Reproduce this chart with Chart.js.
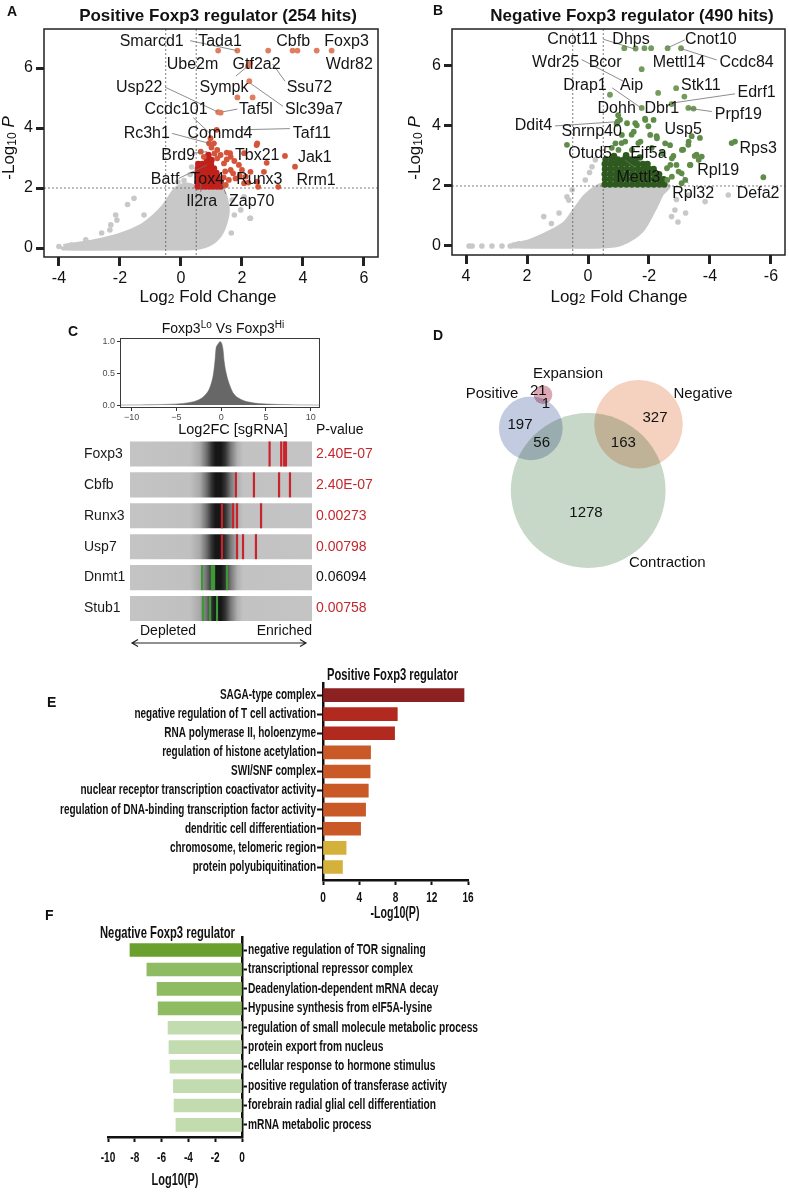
<!DOCTYPE html>
<html>
<head>
<meta charset="utf-8">
<title>Foxp3 regulator screen</title>
<script src="https://cdn.jsdelivr.net/npm/chart.js@4.4.1/dist/chart.umd.min.js"></script>
<style>
  html, body { margin: 0; padding: 0; background: #fff; }
  #page { position: relative; width: 789px; height: 1192px; overflow: hidden; background: #fff; }
  #page canvas { position: absolute; }
</style>
</head>
<body>
<div id="page">
  <canvas id="volcanoPos" width="395" height="310" style="left:0;top:0"></canvas>
  <canvas id="volcanoNeg" width="394" height="310" style="left:395px;top:0"></canvas>
  <canvas id="hist" width="400" height="123" style="left:0;top:315px"></canvas>
  <canvas id="barcode" width="400" height="228" style="left:0;top:425px"></canvas>
  <canvas id="venn" width="389" height="300" style="left:400px;top:315px"></canvas>
  <canvas id="goPos" width="789" height="270" style="left:0;top:655px"></canvas>
  <canvas id="goNeg" width="789" height="287" style="left:0;top:905px"></canvas>
</div>
<script>
// Foxp3 CRISPR screen figure: volcano plots, sgRNA barcodes, Venn, GO bars

// --- Panel A: positive regulators (log2FC, -log10 P) ---
const posTopHits = [[1.22,6.58],[1.85,6.58],[2.86,6.58],[3.66,6.58],[3.82,6.58],[4.45,6.58],[4.94,6.58],
  [2.2,6.06],[2.26,6.17],[2.24,5.56],[1.85,5.02],[2.35,5.02],[1.22,4.53],[1.3,4.51]];
const posHits = [[1.17,3.94],[0.97,3.66],[0.92,3.49],[1.08,3.49],[1.19,3.27],[2.5,3.49],[2.48,3.43],[1.5,3.18],
  [2.07,3.16],[1.61,3.16],[1.63,3.04],[3.41,3.07],[2.81,2.84],[1.9,2.77],[3.74,2.71],[2.28,2.54],[2.72,2.54],
  [1.63,2.6],[1.71,2.49],[1.79,2.32],[2.12,2.38],[1.93,2.4],[1.57,2.27],[2.07,2.16],[2.21,2.18],[2.5,2.21],
  [1.47,2.1],[3.19,2.04],[2.53,2.04],[0.65,3.21],[0.75,3.04],[1.19,2.99],[1.41,2.82],[1.0,3.35],[1.3,3.1],
  [1.5,2.95],[1.45,2.55],[1.4,2.35],[1.75,2.9],[2.0,2.6],[1.1,3.15]];
const posDenseHits = [
  [0.55,2.05],[0.68,2.05],[0.8,2.05],[0.93,2.05],[1.05,2.05],[1.18,2.05],[1.3,2.05],
  [0.55,2.2],[0.67,2.2],[0.8,2.2],[0.92,2.2],[1.05,2.2],[1.17,2.2],[1.3,2.2],
  [0.56,2.35],[0.68,2.35],[0.81,2.35],[0.94,2.35],[1.06,2.35],[1.2,2.35],
  [0.55,2.5],[0.67,2.5],[0.8,2.5],[0.93,2.5],[1.05,2.5],[1.16,2.5],
  [0.56,2.65],[0.69,2.65],[0.82,2.65],[0.95,2.65],[1.08,2.65],
  [0.57,2.8],[0.7,2.8],[0.84,2.8],[0.98,2.8],[0.85,2.95],[1.0,2.93],[0.9,3.1]];
const posGrey = [[-1.54,1.66],[-2.14,1.1],[-2.3,0.77],[-3.12,0.27],[-1.21,1.1],[2.28,0.99],[1.96,1.27],[1.68,1.6],
  [2.07,1.71],[-2.1,0.93],[2.26,0.99],[-4.0,0.05],[-3.6,0.1],[0.1,2.25],[0.3,2.45],[-0.1,2.2],[0.35,2.7],
  [-1.75,1.45],[-2.6,0.5],[1.75,1.1],[1.65,0.5],[0.13,1.93],[-2.33,0.6]];
const posCloud = [[-3.85,0.05],[-2.85,0.21],[-1.98,0.43],[-1.32,0.71],[-0.89,1.04],[-0.56,1.38],[-0.34,1.71],
  [-0.12,1.99],[0.21,2.1],[0.6,2.0],[1.19,1.99],[1.41,1.82],[1.47,1.6],[1.52,1.27],[1.47,0.93],[1.3,0.49],
  [0.97,0.16],[0.5,0.02],[-1.0,0],[-3.85,0],[-3.85,0.05]];

// --- Panel B: negative regulators ---
const negTopHits = [[-1.19,6.59],[-1.56,6.58],[-1.85,6.59],[-2.07,6.59],[-2.61,6.59],[-3.05,6.59],[-1.76,5.89],
  [-2.89,5.26],[-2.3,5.1],[-3.16,4.98],[-0.72,5.04],[-2.74,4.73],[-1.76,4.6],[-3.29,4.6],[-3.46,4.58]];
const negHits = [[-0.97,4.14],[-0.99,4.36],[-1.05,4.21],[-0.94,4.07],[-1.28,4.09],[-1.55,4.09],[-1.88,4.2],
  [-2.15,4.2],[-1.87,4.24],[-1.98,3.99],[-1.6,4.02],[-1.5,3.81],[-1.43,3.71],[-1.11,3.7],[-2.04,3.7],[-2.25,3.66],
  [-2.26,3.59],[-3.4,3.66],[-3.67,3.6],[-1.1,3.43],[-0.9,3.42],[-1.22,3.48],[-1.65,3.43],[-1.72,3.48],[-2.53,3.42],
  [-0.78,3.27],[-2.09,3.27],[-2.69,3.36],[-3.3,3.48],[-3.29,3.37],[-3.12,3.21],[-3.08,3.2],[-1.0,3.2],[-1.44,3.2],
  [-2.43,3.09],[-3.56,3.04],[-4.71,3.43],[-4.82,3.48],[-3.73,2.98],[-3.5,3.0],[-2.75,2.92],[-2.8,3.0],[-3.34,2.7],
  [-3.36,2.7],[-3.63,2.87],[-2.9,2.7],[-2.7,2.7],[-2.59,2.59],[-2.97,2.48],[-3.07,2.42],[-2.75,2.31],[-3.19,2.2],
  [-2.6,2.2],[-3.07,2.09],[-5.75,2.29],[0.69,3.37]];
const negDenseHits = [
  [-0.55,2.05],[-0.72,2.05],[-0.9,2.05],[-1.08,2.05],[-1.26,2.05],[-1.44,2.05],[-1.62,2.05],[-1.8,2.05],[-1.98,2.05],[-2.16,2.05],[-2.34,2.05],[-2.5,2.05],
  [-0.56,2.22],[-0.74,2.22],[-0.92,2.22],[-1.1,2.22],[-1.28,2.22],[-1.46,2.22],[-1.64,2.22],[-1.82,2.22],[-2.0,2.22],[-2.18,2.22],[-2.36,2.22],[-2.48,2.22],
  [-0.55,2.39],[-0.73,2.39],[-0.91,2.39],[-1.09,2.39],[-1.27,2.39],[-1.45,2.39],[-1.63,2.39],[-1.81,2.39],[-1.99,2.39],[-2.17,2.39],[-2.33,2.39],
  [-0.56,2.56],[-0.74,2.56],[-0.92,2.56],[-1.1,2.56],[-1.28,2.56],[-1.46,2.56],[-1.64,2.56],[-1.82,2.56],[-2.0,2.56],[-2.15,2.56],
  [-0.55,2.73],[-0.73,2.73],[-0.91,2.73],[-1.09,2.73],[-1.27,2.73],[-1.45,2.73],[-1.63,2.73],[-1.8,2.73],[-1.95,2.73],
  [-0.58,2.88],[-0.78,2.88],[-0.98,2.88],[-1.18,2.88],[-1.38,2.88],[-1.55,2.88],[-0.85,3.0],[-1.25,3.02],[-1.7,2.95]];
const negGrey = [[3.9,0],[3.8,0],[3.48,0],[3.15,0],[2.82,0],[2.55,0],[2.27,0.07],[1.45,0.98],[0.63,1.53],[0.52,1.87],
  [0.69,1.64],[-0.13,2.64],[-0.24,2.87],[0.09,2.2],[-0.05,2.45],[-4.6,1.7],[-3.84,1.48],[-2.85,1.2],[-2.74,0.98],
  [-2.9,1.55],[-3.3,1.7],[1.2,0.75],[0.95,1.1],[-3.2,1.1],[-2.95,0.8]];
const negCloud = [[2.5,0.03],[1.94,0.14],[1.18,0.48],[0.74,0.76],[0.42,1.2],[0.09,1.64],[-0.24,1.92],[-0.51,2.03],
  [-1.5,2.03],[-2.53,2.03],[-2.63,1.98],[-2.42,1.76],[-2.2,1.31],[-1.76,0.53],[-1.1,0.09],[-0.5,0],[2.5,0],[2.5,0.03]];

const volcanoYTicks = [0, 2, 4, 6];
const posXTicks = [-4, -2, 0, 2, 4, 6];
const negXTicks = [4, 2, 0, -2, -4, -6];

// gene name, label centre (log2FC, -log10P)
const posGeneLabels = [['Smarcd1',-0.96,6.88],['Tada1',1.28,6.88],['Cbfb',3.68,6.88],['Foxp3',5.43,6.88],
  ['Ube2m',0.38,6.1],['Gtf2a2',2.48,6.1],['Wdr82',5.52,6.1],['Usp22',-1.37,5.36],['Sympk',1.41,5.36],
  ['Ssu72',4.21,5.36],['Ccdc101',-0.16,4.62],['Taf5l',2.46,4.62],['Slc39a7',4.36,4.62],['Rc3h1',-1.12,3.82],
  ['Commd4',1.28,3.82],['Taf11',4.29,3.82],['Brd9',-0.09,3.07],['Tbx21',2.5,3.07],['Jak1',4.39,3.02],
  ['Batf',-0.52,2.29],['Tox4',0.86,2.29],['Runx3',2.57,2.29],['Rrm1',4.43,2.24],['Il2ra',0.68,1.54],['Zap70',2.32,1.54]];
const posLeaders = [[0.3,6.91,1.84,6.58],[1.8,5.73,2.2,6.07],[3.01,6.13,3.41,5.56],[2.26,5.5,3.35,4.72],
  [-0.52,5.36,1.2,4.54],[1.85,4.63,1.37,4.54],[0.4,4.35,0.95,3.82],[-0.29,3.82,0.92,3.49],[3.57,3.98,1.93,3.94],
  [0.37,3.16,0.86,3.21],[-0.07,2.32,0.86,2.77],[0.65,1.87,0.65,2.2],[1.3,2.3,1.47,1.8]];
const negGeneLabels = [['Cnot11',0.51,6.89],['Dhps',-1.41,6.89],['Cnot10',-4.03,6.89],['Wdr25',1.06,6.11],
  ['Bcor',-0.56,6.11],['Mettl14',-2.98,6.11],['Ccdc84',-5.2,6.11],['Drap1',0.1,5.33],['Aip',-1.43,5.33],
  ['Stk11',-3.7,5.33],['Edrf1',-5.53,5.11],['Dohh',-0.94,4.59],['Dbr1',-2.42,4.59],['Prpf19',-4.93,4.37],
  ['Ddit4',1.79,4.0],['Snrnp40',-0.12,3.81],['Usp5',-3.12,3.87],['Rps3',-5.58,3.26],['Otud5',-0.07,3.07],
  ['Eif5a',-1.98,3.07],['Mettl3',-1.65,2.29],['Rpl19',-4.27,2.51],['Rpl32',-3.45,1.73],['Defa2',-5.58,1.73]];
const negLeaders = [[-0.5,6.89,-1.54,6.56],[-3.18,6.87,-2.63,6.61],[-4.22,6.2,-3.07,6.57],[0.21,6.21,-1.16,5.49],
  [-0.79,5.27,-1.7,4.63],[-4.82,5.07,-2.74,4.76],[-4.06,4.48,-3.29,4.59],[1.08,4.0,-0.94,4.14],
  [-1.21,2.87,-1.54,2.62],[-3.29,2.09,-3.07,2.37],[-0.83,3.33,-0.97,3.48]];

// --- Panel C: sgRNA log2FC density and per-gene sgRNA ranks ---
const histX = [-11.3,-9,-7.5,-6.07,-4.21,-3.09,-2.35,-1.79,-1.23,-0.86,-0.67,-0.6,-0.41,-0.11,0.19,0.34,0.56,0.93,1.38,2.12,3.24,5.1,7.5,9,11.04];
const histY = [0,0.002,0.005,0.01,0.026,0.053,0.095,0.158,0.29,0.5,0.74,0.87,0.95,1.0,0.89,0.68,0.5,0.32,0.18,0.095,0.042,0.016,0.006,0.002,0];
const histXTicks = [-10, -5, 0, 5, 10];
const histYTicks = [0, 0.5, 1];

const screenGenes = ['Foxp3', 'Cbfb', 'Runx3', 'Usp7', 'Dnmt1', 'Stub1'];
const screenPValues = [2.4e-7, 2.4e-7, 0.00273, 0.00798, 0.06094, 0.00758];
const screenDirection = ['up', 'up', 'up', 'up', 'down', 'down'];
// sgRNA positions along the ranked library, percent from depleted (0) to enriched (100)
const sgRnaRanks = [[76.7,83.1,84.7,85.7],[58.2,68.1,81.9,87.9],[50.5,56.6,58.8,72.0],
  [50.5,58.8,62.1,69.2],[39.6,45.0,46.2,53.3],[40.1,44.0,47.8]];

// --- Panel D: Venn regions ---
const vennSetNames = ['Contraction', 'Positive', 'Negative', 'Expansion'];
const vennRegionSets = [['Expansion'],['Positive','Expansion'],['Positive'],['Positive','Contraction'],
  ['Negative'],['Negative','Contraction'],['Contraction']];
const vennRegionCounts = [21, 1, 197, 56, 327, 163, 1278];

// --- Panels E, F: GO enrichment ---
const goPosTerms = ['SAGA-type complex','negative regulation of T cell activation','RNA polymerase II, holoenzyme',
  'regulation of histone acetylation','SWI/SNF complex','nuclear receptor transcription coactivator activity',
  'regulation of DNA-binding transcription factor activity','dendritic cell differentiation',
  'chromosome, telomeric region','protein polyubiquitination'];
const goPosValues = [15.56, 8.2, 7.9, 5.25, 5.2, 5.0, 4.7, 4.15, 2.55, 2.15];
const goPosXTicks = [0, 4, 8, 12, 16];
const goNegTerms = ['negative regulation of TOR signaling','transcriptional repressor complex',
  'Deadenylation-dependent mRNA decay','Hypusine synthesis from eIF5A-lysine',
  'regulation of small molecule metabolic process','protein export from nucleus',
  'cellular response to hormone stimulus','positive regulation of transferase activity',
  'forebrain radial glial cell differentiation','mRNA metabolic process'];
const goNegValues = [-8.36, -7.1, -6.34, -6.26, -5.52, -5.45, -5.37, -5.12, -5.07, -4.93];
const goNegXTicks = [-10, -8, -6, -4, -2, 0];

// ---------------------------------------------------------------
const FONT = "'Liberation Sans', Arial, Helvetica, sans-serif";
const GREY = '#c8c8c8';
Chart.defaults.font.family = FONT;
Chart.defaults.color = '#111';
Chart.defaults.animation = false;
Chart.defaults.events = [];
Chart.defaults.layout.autoPadding = false; // keep chart areas exactly where the figure has them
Chart.defaults.plugins.legend.display = false;
Chart.defaults.plugins.tooltip.enabled = false;

function xy(list) { return list.map(([x, y]) => ({ x, y })); }

function txt(ctx, s, x, y, font, align, color) {
  ctx.save();
  ctx.font = font;
  ctx.fillStyle = color || '#111';
  ctx.textAlign = align || 'left';
  ctx.textBaseline = 'alphabetic';
  ctx.fillText(s, x, y);
  ctx.restore();
}

// draw text squeezed horizontally by sx (condensed look of the GO panels)
function squash(ctx, s, x, y, font, sx, align, base) {
  ctx.save();
  ctx.font = font;
  ctx.fillStyle = '#111';
  ctx.textAlign = align || 'left';
  ctx.textBaseline = base || 'alphabetic';
  ctx.translate(x, y);
  ctx.scale(sx, 1);
  ctx.fillText(s, 0, 0);
  ctx.restore();
}

function fitText(ctx, s, x, y, font, width, align) {
  ctx.save();
  ctx.font = font;
  const sx = width / ctx.measureText(s).width;
  ctx.restore();
  squash(ctx, s, x, y, font, sx, align || 'center');
}

// mixed-size text runs: [text, font, dy]
function rich(ctx, segs, x, y, align, rot) {
  ctx.save();
  ctx.translate(x, y);
  if (rot) ctx.rotate(rot);
  let total = 0;
  segs.forEach(s => { ctx.font = s[1]; total += ctx.measureText(s[0]).width; });
  let cx = align === 'center' ? -total / 2 : (align === 'right' ? -total : 0);
  ctx.fillStyle = '#111';
  ctx.textAlign = 'left';
  ctx.textBaseline = 'alphabetic';
  segs.forEach(s => {
    ctx.font = s[1];
    ctx.fillText(s[0], cx, s[2] || 0);
    cx += ctx.measureText(s[0]).width;
  });
  ctx.restore();
}

// --- volcano plots ---
function volcanoDecor(cfg) {
  return {
    id: 'volcanoDecor',
    afterDatasetDraw(chart, args) {
      if (!chart.data.datasets[args.index].dashAfter) return;
      const { ctx, chartArea: a, scales: { x, y } } = chart;
      ctx.save();
      ctx.strokeStyle = '#5a5a5a';
      ctx.lineWidth = 0.8;
      ctx.setLineDash([2, 2]);
      ctx.beginPath();
      [-0.5, 0.5].forEach(v => {
        const px = x.getPixelForValue(v);
        ctx.moveTo(px, a.top); ctx.lineTo(px, a.bottom);
      });
      const py = y.getPixelForValue(2);
      ctx.moveTo(a.left, py); ctx.lineTo(a.right, py);
      ctx.stroke();
      ctx.restore();
    },
    afterDraw(chart) {
      const { ctx, chartArea: a, scales: { x, y } } = chart;
      ctx.save();
      ctx.strokeStyle = '#222';
      ctx.lineWidth = 1.5;
      ctx.strokeRect(a.left, a.top, a.width, a.height);
      ctx.strokeStyle = '#707070';
      ctx.lineWidth = 0.8;
      ctx.beginPath();
      cfg.leaders.forEach(([x1, y1, x2, y2]) => {
        ctx.moveTo(x.getPixelForValue(x1), y.getPixelForValue(y1));
        ctx.lineTo(x.getPixelForValue(x2), y.getPixelForValue(y2));
      });
      ctx.stroke();
      ctx.font = '16px ' + FONT;
      ctx.fillStyle = '#141414';
      ctx.textAlign = 'center';
      ctx.textBaseline = 'middle';
      cfg.labels.forEach(([t, lx, ly]) => ctx.fillText(t, x.getPixelForValue(lx), y.getPixelForValue(ly)));
      ctx.restore();

      txt(ctx, cfg.letter, cfg.letterAt[0], cfg.letterAt[1], 'bold 14px ' + FONT);
      txt(ctx, cfg.title, cfg.titleAt[0], cfg.titleAt[1], 'bold 17px ' + FONT, 'center');
      rich(ctx, [['Log', '17px ' + FONT], ['2', '12px ' + FONT, 1], [' Fold Change', '17px ' + FONT]],
        cfg.xTitleAt[0], cfg.xTitleAt[1], 'center');
      rich(ctx, [['-Log', '17px ' + FONT], ['10', '12px ' + FONT, 2], [' ', '17px ' + FONT], ['P', 'italic 17px ' + FONT]],
        cfg.yTitleAt[0], cfg.yTitleAt[1], 'center', -Math.PI / 2);
    }
  };
}

function dots(list, colour, r, order) {
  return { data: xy(list), backgroundColor: colour, pointRadius: r, pointBorderWidth: 0, order };
}

function volcanoChart(id, cfg) {
  return new Chart(document.getElementById(id), {
    type: 'scatter',
    data: {
      datasets: [
        dots(cfg.top, cfg.topColour, 2.9, 0),
        dots(cfg.hits, cfg.hitColour, 2.9, 1),
        dots(cfg.dense, cfg.denseColour, 3.3, 2),
        Object.assign(dots(cfg.grey, GREY, 2.8, 4), { dashAfter: true }),
        { type: 'line', data: xy(cfg.cloud), fill: 'shape', backgroundColor: GREY, borderColor: GREY,
          borderWidth: 5, borderJoinStyle: 'round', pointRadius: 0, tension: 0.3, order: 5 }
      ]
    },
    options: {
      responsive: false,
      layout: { padding: { top: 29, right: cfg.padRight, left: 0, bottom: 0 } },
      scales: {
        x: {
          type: 'linear', min: cfg.xMin, max: cfg.xMax, reverse: !!cfg.reverse,
          afterBuildTicks: s => { s.ticks = cfg.xTicks.map(v => ({ value: v })); },
          afterFit: s => { s.height = cfg.xHeight; },
          border: { display: false },
          grid: { drawOnChartArea: false, drawTicks: true, tickLength: 9, tickWidth: 3, tickColor: '#222' },
          ticks: { font: { size: 16 }, color: '#111', padding: 3, maxRotation: 0 }
        },
        y: {
          type: 'linear', min: -0.3, max: cfg.yMax,
          afterBuildTicks: s => { s.ticks = volcanoYTicks.map(v => ({ value: v })); },
          afterFit: s => { s.width = cfg.yWidth; },
          border: { display: false },
          grid: { drawOnChartArea: false, drawTicks: true, tickLength: 8, tickWidth: 3, tickColor: '#222' },
          ticks: { font: { size: 16 }, color: '#111', padding: 3 }
        }
      }
    },
    plugins: [volcanoDecor(cfg)]
  });
}

volcanoChart('volcanoPos', {
  top: posTopHits, hits: posHits, dense: posDenseHits, grey: posGrey, cloud: posCloud,
  topColour: '#df7d5e', hitColour: '#d5553b', denseColour: '#c1201b',
  xMin: -4.49, xMax: 6.46, yMax: 7.3, xTicks: posXTicks, padRight: 17, yWidth: 44, xHeight: 53,
  labels: posGeneLabels, leaders: posLeaders,
  letter: 'A', letterAt: [7, 16], title: 'Positive Foxp3 regulator (254 hits)', titleAt: [218, 21],
  xTitleAt: [208, 302], yTitleAt: [14, 148]
});

volcanoChart('volcanoNeg', {
  top: negTopHits, hits: negHits, dense: negDenseHits, grey: negGrey, cloud: negCloud,
  topColour: '#729b5c', hitColour: '#5f8c48', denseColour: '#2e5a1f', reverse: true,
  xMin: -6.46, xMax: 4.46, yMax: 7.23, xTicks: negXTicks, padRight: 4, yWidth: 57, xHeight: 55,
  labels: negGeneLabels, leaders: negLeaders,
  letter: 'B', letterAt: [38, 15], title: 'Negative Foxp3 regulator (490 hits)', titleAt: [237, 21],
  xTitleAt: [224, 302], yTitleAt: [25, 148]
});

// --- panel C: density ---
new Chart(document.getElementById('hist'), {
  type: 'scatter',
  data: {
    datasets: [{
      type: 'line', data: histX.map((x, i) => ({ x, y: histY[i] })), fill: 'origin',
      backgroundColor: '#676767', borderColor: '#676767', borderWidth: 0.5, pointRadius: 0,
      cubicInterpolationMode: 'monotone'
    }]
  },
  options: {
    responsive: false,
    layout: { padding: { top: 23, right: 80, left: 0, bottom: 0 } },
    scales: {
      x: {
        type: 'linear', min: -11.31, max: 11.04,
        afterBuildTicks: s => { s.ticks = histXTicks.map(v => ({ value: v })); },
        afterFit: s => { s.height = 30; },
        border: { display: false },
        grid: { drawOnChartArea: false, tickLength: 3, tickWidth: 1, tickColor: '#333' },
        ticks: { font: { size: 9 }, color: '#4d4d4d', padding: 1, maxRotation: 0,
          callback: v => (v < 0 ? '\u2212' + Math.abs(v) : String(v)) }
      },
      y: {
        type: 'linear', min: -0.047, max: 1.058,
        afterBuildTicks: s => { s.ticks = histYTicks.map(v => ({ value: v })); },
        afterFit: s => { s.width = 120; },
        border: { display: false },
        grid: { drawOnChartArea: false, tickLength: 3, tickWidth: 1, tickColor: '#333' },
        ticks: { font: { size: 9 }, color: '#4d4d4d', padding: 2, callback: v => v.toFixed(1) }
      }
    }
  },
  plugins: [{
    id: 'histDecor',
    afterDraw(chart) {
      const { ctx, chartArea: a } = chart;
      ctx.save();
      ctx.strokeStyle = '#3a3a3a';
      ctx.lineWidth = 1;
      ctx.strokeRect(a.left + 0.5, a.top + 0.5, a.width - 1, a.height - 1);
      ctx.restore();
      txt(ctx, 'C', 68, 20.7, 'bold 14px ' + FONT);
      rich(ctx, [['Foxp3', '14px ' + FONT], ['Lo', '10px ' + FONT, -5], [' Vs Foxp3', '14px ' + FONT],
        ['Hi', '10px ' + FONT, -5]], 223, 18, 'center');
      txt(ctx, 'Log2FC [sgRNA]', 233, 119, '14.5px ' + FONT, 'center');
      txt(ctx, 'P-value', 316, 119, '14px ' + FONT, 'left');
    }
  }]
});

// --- panel C: barcodes ---
const shadeStops = [[0, '#c4c4c4'], [0.33, '#c0c0c0'], [0.385, '#a8a8a8'], [0.42, '#707070'], [0.45, '#303030'],
  [0.47, '#161616'], [0.5, '#161616'], [0.525, '#363636'], [0.555, '#7a7a7a'], [0.59, '#b0b0b0'],
  [0.62, '#c2c2c2'], [1, '#c4c4c4']];

function rowShade(context) {
  const a = context.chart.chartArea;
  if (!a) return '#c4c4c4';
  const g = context.chart.ctx.createLinearGradient(a.left, 0, a.right, 0);
  shadeStops.forEach(([p, c]) => g.addColorStop(p, c));
  return g;
}

function formatP(v) {
  if (v < 1e-4) {
    const [m, e] = v.toExponential(2).split('e');
    const n = Math.abs(parseInt(e, 10));
    return m + 'E' + (parseInt(e, 10) < 0 ? '-' : '+') + (n < 10 ? '0' : '') + n;
  }
  return v.toFixed(5);
}

function sgPoints(dir) {
  const out = [];
  screenGenes.forEach((g, i) => {
    if (screenDirection[i] !== dir) return;
    sgRnaRanks[i].forEach(r => out.push({ x: r, y: g }));
  });
  return out;
}

new Chart(document.getElementById('barcode'), {
  type: 'bar',
  data: {
    labels: screenGenes,
    datasets: [
      { type: 'scatter', data: sgPoints('up'), pointStyle: 'line', pointRadius: 12.5, pointRotation: 90,
        pointBorderColor: '#c9232c', pointBackgroundColor: '#c9232c', pointBorderWidth: 2.2, clip: false, order: 0 },
      { type: 'scatter', data: sgPoints('down'), pointStyle: 'line', pointRadius: 12.5, pointRotation: 90,
        pointBorderColor: '#3b9a34', pointBackgroundColor: '#3b9a34', pointBorderWidth: 2.2, clip: false, order: 1 },
      { data: screenGenes.map(() => [0, 100]), backgroundColor: rowShade, barPercentage: 0.81,
        categoryPercentage: 1, order: 5 }
    ]
  },
  options: {
    indexAxis: 'y',
    responsive: false,
    layout: { padding: { left: 84, top: 13.5, bottom: 29, right: 0 } },
    scales: {
      x: { type: 'linear', min: 0, max: 100, display: false },
      y: {
        type: 'category', position: 'left', offset: true,
        afterFit: s => { s.width = 46; },
        grid: { display: false, drawTicks: false }, border: { display: false },
        ticks: { crossAlign: 'far', font: { size: 14 }, color: '#1a1a1a' }
      },
      yP: {
        type: 'category', position: 'right', offset: true,
        afterFit: s => { s.width = 88; },
        grid: { display: false, drawTicks: false }, border: { display: false },
        ticks: {
          padding: 4, font: { size: 14 },
          color: c => (screenPValues[c.index] < 0.05 ? '#c3282e' : '#111'),
          callback: (v, i) => formatP(screenPValues[i])
        }
      }
    }
  },
  plugins: [{
    id: 'barcodeDecor',
    afterDraw(chart) {
      const { ctx } = chart;
      txt(ctx, 'Depleted', 140, 210, '14px ' + FONT, 'left');
      txt(ctx, 'Enriched', 312, 210, '14px ' + FONT, 'right');
      ctx.save();
      ctx.strokeStyle = '#222';
      ctx.lineWidth = 1.2;
      ctx.beginPath();
      ctx.moveTo(132, 218); ctx.lineTo(306, 218);
      ctx.moveTo(138, 214.5); ctx.lineTo(132, 218); ctx.lineTo(138, 221.5);
      ctx.moveTo(300, 214.5); ctx.lineTo(306, 218); ctx.lineTo(300, 221.5);
      ctx.stroke();
      ctx.restore();
    }
  }]
});

// --- panel D: Venn as bubbles, area proportional to set size ---
const vennLayout = {
  centres: { Positive: [130.8, 113.3], Expansion: [143, 79.7], Negative: [238.5, 109.2], Contraction: [188.2, 175.5] },
  colours: { Positive: '#c3cbe0', Expansion: '#dba8b5', Negative: '#f4d2bf', Contraction: '#c8d8c8' },
  radiusPerRootCount: 2.0,
  nameSpots: { Positive: [92, 83.3], Expansion: [168, 62.7], Negative: [303, 83.3], Contraction: [267.3, 252.3] },
  countSpots: [[138.3, 80], [146, 93.3], [120, 114.3], [141.7, 132.3], [255, 107.3], [223.3, 131.7], [186, 201.7]]
};

function vennSetSize(name) {
  return vennRegionCounts.reduce((sum, n, i) => sum + (vennRegionSets[i].includes(name) ? n : 0), 0);
}

new Chart(document.getElementById('venn'), {
  type: 'bubble',
  data: {
    datasets: vennSetNames.map(name => ({
      label: name,
      data: [{ x: vennLayout.centres[name][0], y: vennLayout.centres[name][1],
        r: vennLayout.radiusPerRootCount * Math.sqrt(vennSetSize(name)) }],
      backgroundColor: vennLayout.colours[name], borderWidth: 0, clip: false
    }))
  },
  options: {
    responsive: false,
    layout: { padding: 0 },
    scales: {
      x: { type: 'linear', display: false, min: 0, max: 389 },
      y: { type: 'linear', display: false, min: 0, max: 300, reverse: true }
    }
  },
  plugins: [{
    id: 'vennDecor',
    beforeDatasetsDraw(chart) { chart.ctx.globalCompositeOperation = 'multiply'; },
    afterDatasetsDraw(chart) { chart.ctx.globalCompositeOperation = 'source-over'; },
    afterDraw(chart) {
      const { ctx } = chart;
      txt(ctx, 'D', 33, 25, 'bold 14px ' + FONT);
      vennSetNames.forEach(n => {
        const [x, y] = vennLayout.nameSpots[n];
        txt(ctx, n, x, y, '15px ' + FONT, 'center');
      });
      vennRegionCounts.forEach((c, i) => {
        const [x, y] = vennLayout.countSpots[i];
        txt(ctx, String(c), x, y, '15px ' + FONT, 'center');
      });
    }
  }]
});

// --- panels E, F: GO bars ---
function goDecor(cfg) {
  return {
    id: 'goDecor',
    afterDraw(chart) {
      const { ctx, chartArea: a, scales: { x, y } } = chart;
      const lf = 'bold 14px ' + FONT;
      ctx.save();
      ctx.font = lf;
      const widest = Math.max(...cfg.terms.map(t => ctx.measureText(t).width));
      ctx.restore();
      const sx = cfg.labelWidth / widest;
      cfg.terms.forEach((t, i) => {
        const py = y.getPixelForValue(i);
        if (cfg.labelSide === 'left') squash(ctx, t, a.left - 7, py, lf, sx, 'right', 'middle');
        else squash(ctx, t, a.right + 6, py, lf, sx, 'left', 'middle');
      });
      cfg.xTicks.forEach(v => squash(ctx, String(v), x.getPixelForValue(v), cfg.tickBase, lf, 0.72, 'center'));
      fitText(ctx, cfg.title[0], cfg.title[1], cfg.title[2], 'bold 17px ' + FONT, cfg.title[3]);
      fitText(ctx, cfg.axisTitle[0], cfg.axisTitle[1], cfg.axisTitle[2], 'bold 16px ' + FONT, cfg.axisTitle[3]);
      txt(ctx, cfg.letter[0], cfg.letter[1], cfg.letter[2], 'bold 14px ' + FONT);
    }
  };
}

function goChart(id, cfg) {
  return new Chart(document.getElementById(id), {
    type: 'bar',
    data: {
      datasets: [{ data: cfg.values.map((v, i) => ({ x: v, y: i })), backgroundColor: cfg.colours,
        barThickness: 13, borderWidth: 0 }]
    },
    options: {
      indexAxis: 'y',
      responsive: false,
      layout: { padding: cfg.padding },
      scales: {
        x: {
          type: 'linear', min: cfg.xMin, max: cfg.xMax, offset: false,
          afterBuildTicks: s => { s.ticks = cfg.xTicks.map(v => ({ value: v })); },
          afterFit: s => { s.height = cfg.xHeight; },
          border: { color: '#111', width: 2.5 },
          grid: { drawOnChartArea: false, offset: false, tickLength: 5, tickWidth: 2, tickColor: '#111' },
          ticks: { display: false }
        },
        y: {
          type: 'linear', position: cfg.yPos, reverse: true, min: cfg.yMin, max: cfg.yMax, offset: false,
          afterBuildTicks: s => { s.ticks = cfg.terms.map((t, i) => ({ value: i })); },
          afterFit: s => { s.width = cfg.yWidth; },
          border: { color: '#111', width: 2.5 },
          grid: { drawOnChartArea: false, offset: false, tickLength: cfg.yTick, tickWidth: 2, tickColor: '#111' },
          ticks: { display: false }
        }
      }
    },
    plugins: [goDecor(cfg)]
  });
}

goChart('goPos', {
  terms: goPosTerms, values: goPosValues, xTicks: goPosXTicks,
  colours: ['#8b2121', '#b22a1f', '#b22a1f', '#c95a28', '#c95a28', '#c95a28', '#c95a28', '#c95a28', '#d4b13a', '#d4b13a'],
  xMin: 0, xMax: 16, yMin: -0.62, yMax: 9.68,
  padding: { top: 28.2, right: 321, left: 0, bottom: 0 }, yPos: 'left', yWidth: 323, xHeight: 45, yTick: 6,
  labelSide: 'left', labelWidth: 256, tickBase: 247,
  title: ['Positive Foxp3 regulator', 392.5, 25, 131], axisTitle: ['-Log10(P)', 395, 263, 49], letter: ['E', 47, 52]
});

goChart('goNeg', {
  terms: goNegTerms, values: goNegValues, xTicks: goNegXTicks,
  colours: ['#6aa02e', '#8fbb62', '#8fbb62', '#8fbb62', '#c2dcaf', '#c2dcaf', '#c2dcaf', '#c2dcaf', '#c2dcaf', '#c2dcaf'],
  xMin: -10, xMax: 0, yMin: -0.67, yMax: 9.62,
  padding: { top: 32, right: 0, left: 108, bottom: 0 }, yPos: 'right', yWidth: 547, xHeight: 55, yTick: 5,
  labelSide: 'right', labelWidth: 230, tickBase: 257,
  title: ['Negative Foxp3 regulator', 167.5, 32.5, 135], axisTitle: ['Log10(P)', 175, 280, 47], letter: ['F', 45, 15]
});
</script>
</body>
</html>
